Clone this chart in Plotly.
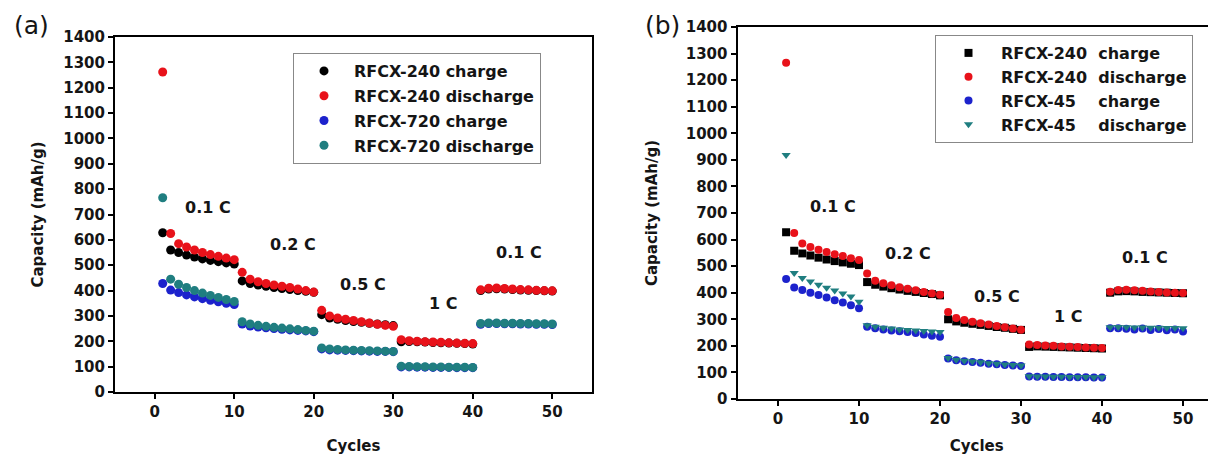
import plotly.graph_objects as go

cycles = list(range(1, 51))

# Panel (a)
a_240_charge = [628,
    560, 550, 540, 532, 525, 519, 514, 509, 505,
    438, 428, 422, 417, 412, 408, 404, 400, 397, 393,
    305, 292, 287, 282, 278, 275, 271, 268, 265, 262,
    198, 199, 198, 197, 195, 194, 193, 192, 191, 189,
    400, 406, 407, 406, 404, 402, 401, 400, 399, 398]
a_240_discharge = [1262,
    625, 585, 572, 560, 550, 542, 535, 528, 522,
    472, 445, 435, 428, 422, 417, 412, 406, 400, 394,
    322, 300, 292, 287, 282, 277, 272, 267, 263, 259,
    206, 202, 200, 198, 197, 196, 194, 193, 192, 191,
    403, 409, 410, 408, 406, 404, 403, 401, 400, 399]
a_720_charge = [428,
    402, 392, 383, 375, 368, 362, 356, 350, 345,
    268, 260, 256, 253, 250, 247, 245, 243, 241, 238,
    170, 166, 165, 164, 163, 162, 161, 160, 160, 159,
    99, 99, 98, 98, 97, 97, 97, 96, 96, 96,
    267, 270, 270, 269, 269, 268, 268, 267, 267, 266]
a_720_discharge = [766,
    445, 425, 412, 400, 390, 381, 373, 365, 357,
    277, 268, 263, 259, 255, 252, 249, 246, 243, 240,
    174, 170, 168, 166, 165, 164, 163, 162, 161, 160,
    102, 101, 100, 100, 99, 99, 98, 98, 98, 97,
    270, 272, 272, 271, 271, 270, 270, 269, 269, 268]

# Panel (b)
b_240_charge = [628,
    558, 548, 540, 532, 525, 519, 514, 509, 504,
    440, 430, 423, 417, 412, 407, 403, 399, 395, 390,
    300, 292, 287, 283, 279, 275, 271, 268, 264, 260,
    196, 198, 197, 196, 195, 194, 193, 192, 191, 190,
    400, 405, 406, 405, 403, 402, 401, 400, 399, 398]
b_240_discharge = [1265,
    625, 585, 572, 562, 553, 545, 538, 530, 523,
    472, 445, 436, 428, 421, 415, 409, 403, 397, 392,
    327, 305, 297, 291, 285, 280, 275, 270, 265, 261,
    205, 203, 201, 200, 198, 197, 196, 194, 193, 192,
    404, 410, 411, 409, 407, 405, 403, 401, 400, 399]
b_45_charge = [452,
    420, 410, 400, 391, 382, 372, 363, 353, 342,
    272, 266, 262, 258, 255, 252, 248, 243, 238, 234,
    152, 146, 142, 139, 136, 133, 131, 128, 126, 124,
    85, 84, 84, 83, 83, 82, 82, 82, 81, 81,
    266, 266, 264, 262, 265, 260, 263, 259, 262, 254]
b_45_discharge = [918,
    474, 455, 442, 430, 419, 408, 397, 386, 366,
    278, 272, 268, 265, 262, 260, 258, 256, 254, 252,
    154, 148, 144, 141, 138, 135, 133, 130, 128, 126,
    86, 85, 85, 84, 84, 83, 83, 83, 82, 82,
    270, 271, 270, 269, 269, 268, 268, 267, 267, 266]

a_names = ["RFCX-240 charge", "RFCX-240 discharge", "RFCX-720 charge", "RFCX-720 discharge"]
b_names = ["RFCX-240\u00a0\u00a0charge", "RFCX-240\u00a0\u00a0discharge",
           "RFCX-45\u00a0\u00a0\u00a0\u00a0charge", "RFCX-45\u00a0\u00a0\u00a0\u00a0discharge"]
rate_labels = ["0.1 C", "0.2 C", "0.5 C", "1 C", "0.1 C"]
a_label_x = [6.7, 17.4, 26.2, 36.3, 45.8]
a_label_y = [726, 580, 422, 351, 552]
b_label_x = [6.8, 16.0, 27.0, 35.8, 45.3]
b_label_y = [723, 546, 384, 309, 534]

BLACK = "#000000"
RED = "#e8121a"
BLUE = "#1c22cc"
TEAL = "#1f7e80"
FONT = "DejaVu Sans"
TXT = "#151515"

fig = go.Figure()

a_series = [a_240_charge, a_240_discharge, a_720_charge, a_720_discharge]
a_colors = [BLACK, RED, BLUE, TEAL]
for i, (vals, nm, col) in enumerate(zip(a_series, a_names, a_colors)):
    fig.add_trace(go.Scatter(x=cycles, y=vals, mode="markers", name=nm,
                             marker=dict(color=col, size=9, symbol="circle"),
                             xaxis="x", yaxis="y", legend="legend", legendgroup="a%d" % i))

b_series = [b_240_charge, b_240_discharge, b_45_charge, b_45_discharge]
b_colors = [BLACK, RED, BLUE, TEAL]
b_symbols = ["square", "circle", "circle", "triangle-down"]
for i, (vals, nm, col, sym) in enumerate(zip(b_series, b_names, b_colors, b_symbols)):
    fig.add_trace(go.Scatter(x=cycles, y=vals, mode="markers", name=nm,
                             marker=dict(color=col, size=8, symbol=sym),
                             xaxis="x2", yaxis="y2", legend="legend2", legendgroup="b%d" % i))

# page body has an 8px margin: figure is drawn from (8, 8)
OFF = 8
W, H = 1216 - OFF, 455 - OFF


def px_x(v):
    return (v - OFF) / W


def px_y(v):
    return 1 - (v - OFF) / H


axis_common = dict(showline=True, linecolor="black", linewidth=2, mirror=True,
                   ticks="outside", ticklen=5, tickwidth=1.5, tickcolor="black",
                   showgrid=False, zeroline=False, automargin=False,
                   tickfont=dict(family=FONT, size=15, color=TXT, weight="bold"))
title_font = dict(family=FONT, size=15, color=TXT, weight="bold")
legend_font = dict(family=FONT, size=16, color=TXT, weight="bold")

fig.update_layout(
    template="none",
    width=W, height=H, margin=dict(l=0, r=0, t=0, b=0, autoexpand=False),
    paper_bgcolor="white", plot_bgcolor="white",
    font=dict(family=FONT, color=TXT),
    xaxis=dict(domain=[px_x(115), px_x(592)], range=[-5, 55], tickvals=[0, 10, 20, 30, 40, 50],
               title=dict(text="Cycles", font=title_font, standoff=20),
               anchor="y", **axis_common),
    yaxis=dict(domain=[px_y(392), px_y(37)], range=[0, 1400], dtick=100,
               title=dict(text="Capacity (mAh/g)", font=title_font, standoff=16),
               anchor="x", **axis_common),
    xaxis2=dict(domain=[px_x(737.5), 1.0], range=[-5, 54.07], tickvals=[0, 10, 20, 30, 40, 50],
                title=dict(text="Cycles", font=title_font, standoff=15),
                anchor="y2", **axis_common),
    yaxis2=dict(domain=[px_y(399), px_y(27)], range=[0, 1400], dtick=100,
                title=dict(text="Capacity (mAh/g)", font=title_font, standoff=25),
                anchor="x2", **axis_common),
    legend=dict(x=px_x(293), y=px_y(53), xanchor="left", yanchor="top",
                bordercolor="#888", borderwidth=1, bgcolor="white",
                font=legend_font, tracegroupgap=1, itemsizing="trace", itemwidth=50),
    legend2=dict(x=px_x(935), y=px_y(35), xanchor="left", yanchor="top",
                 bordercolor="#888", borderwidth=1, bgcolor="white",
                 font=legend_font, tracegroupgap=0, itemsizing="trace", itemwidth=55),
)

for i, t in enumerate(rate_labels):
    fig.add_annotation(x=a_label_x[i], y=a_label_y[i], xref="x", yref="y", text=t,
                       showarrow=False, font=dict(family=FONT, size=16, color=TXT, weight="bold"))
    fig.add_annotation(x=b_label_x[i], y=b_label_y[i], xref="x2", yref="y2", text=t,
                       showarrow=False, font=dict(family=FONT, size=16, color=TXT, weight="bold"))

fig.add_annotation(x=px_x(31), y=px_y(25), xref="paper", yref="paper", text="(a)", showarrow=False,
                   xanchor="center", yanchor="middle", font=dict(family=FONT, size=25, color=TXT))
fig.add_annotation(x=px_x(662), y=px_y(25), xref="paper", yref="paper", text="(b)", showarrow=False,
                   xanchor="center", yanchor="middle", font=dict(family=FONT, size=25, color=TXT))

fig.write_html("out.html")
